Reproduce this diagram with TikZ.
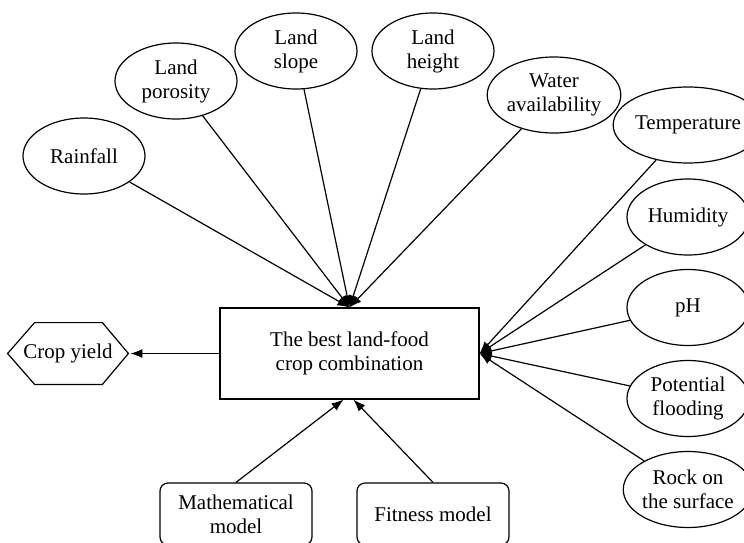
\documentclass[tikz,border=0pt]{standalone}
\usepackage{fontspec}
\setmainfont{Liberation Serif}
\usetikzlibrary{shapes,arrows.meta,calc,positioning}

\begin{document}
\begin{tikzpicture}[x=0.5pt,y=-0.5pt]
  \tikzset{ f/.style={ellipse,draw,line width=0.6pt,inner sep=0pt,minimum width=61pt,minimum height=38pt,align=center},
    box/.style={rectangle,draw,line width=0.6pt,minimum width=129.5pt,minimum height=45.5pt,align=center},
    mdl/.style={rectangle,rounded corners=4pt,draw,line width=0.6pt,minimum width=76pt,minimum height=31pt,align=center},
    res/.style={rectangle,inner sep=0pt,minimum width=60pt,minimum height=30.5pt},
    con/.style={line width=0.6pt,-{Latex[length=6pt,width=4.5pt]}},
    every node/.style={font=\fontsize{10.5}{12}\selectfont},
  }
  \useasboundingbox (0,0) rectangle (744,542);
  \node[box] (best) at (349.5,353.5) {The best land-food\\crop combination};
  \node[res] (yield) at (68,353.5) {Crop yield};
  % hexagon round the result
  \draw[line width=0.6pt] (yield.west) -- ($(yield.north west)+(27,0)$) -- ($(yield.north east)+(-26,0)$)
    -- (yield.east) -- ($(yield.south east)+(-26,0)$) -- ($(yield.south west)+(27,0)$) -- cycle;

  % factors
  \node[f] (rain) at (84,156) {Rainfall};
  \node[f] (por) at (176,81) {Land\\porosity};
  \node[f] (slope) at (296,51) {Land\\slope};
  \node[f] (height) at (433,51) {Land\\height};
  \node[f] (water) at (554,95) {Water\\availability};
  \node[f] (temp) at (688,125) {Temperature};
  \node[f] (hum) at (688,217) {Humidity};
  \node[f] (ph) at (688,307.5) {pH};
  \node[f] (flood) at (688,398.5) {Potential\\flooding};
  \node[f] (rock) at (688,489.5) {Rock on\\the surface};

  % models
  \node[mdl] (math) at (236,514) {Mathematical\\model};
  \node[mdl] (fit) at (433,514) {Fitness model};

  % the connection between the nodes
  \foreach \a in {rain,por,slope,height,water}
    \draw[con] (\a) -- (best.north);
  \foreach \a in {temp,hum,ph,flood,rock}
    \draw[con] (\a) -- (best.east);
  \draw[con] (math.north) -- ($(best.south)+(-6,0)$);
  \draw[con] (fit.north) -- ($(best.south)+(4,0)$);
  \draw[con] (best.west) -- ($(yield.east)+(2,0)$);
\end{tikzpicture}
\end{document}
